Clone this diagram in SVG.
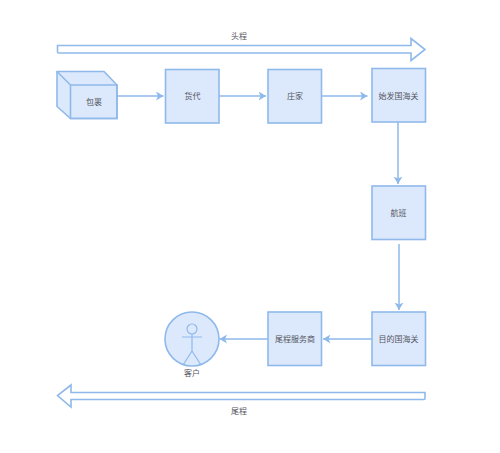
<svg xmlns="http://www.w3.org/2000/svg" width="500" height="453" viewBox="0 0 500 453">
<style>
.s{fill:#dce9fc;stroke:#8fb9ea;stroke-width:1.6}
.o{fill:#fff;stroke:#8fb9ea;stroke-width:1.6}
.n{fill:none;stroke:#8fb9ea;stroke-width:1.2}
.c{fill:none;stroke:#8fb9ea;stroke-width:1.5;marker-end:url(#a)}
text{font-family:"Noto Sans CJK SC","Liberation Sans",sans-serif;font-size:8px;fill:#55555f;text-anchor:middle}
</style>
<defs>
<marker id="a" markerUnits="userSpaceOnUse" markerWidth="9" markerHeight="10" refX="7.500" refY="4.500" orient="auto">
<path d="M0 0L7.500 4.500L0 9L2 4.500Z" fill="#8fb9ea"/>
</marker>
</defs>
<rect width="500" height="453" fill="#fff"/>
<g id="connectors">
<path class="c" d="M117 96H163.500"/>
<path class="c" d="M219 96H266"/>
<path class="c" d="M321.500 96H367.500"/>
<path class="c" d="M398 118V184"/>
<path class="c" d="M399 244V310"/>
<path class="c" d="M372 339H323"/>
<path class="c" d="M268 339H219.500"/>
</g>
<g id="head-arrow"><path class="o" d="M57.500 45.500H411V38.500L425 49.500L411 60.500V53H58.500Q57.500 53 57.500 52Z"/><text x="239" y="39">头程</text></g>
<g id="package"><path class="s" d="M57 71.500H104L117 85V118.500H70.500L57 106.500Z"/><path class="s" d="M57 71.500L70.500 85H117V118.500H70.500V85" style="fill:none"/><text x="94" y="105">包裹</text></g>
<g id="forwarder"><rect class="s" x="165.500" y="69.500" width="53.500" height="53.500"/><text x="192.500" y="99">货代</text></g>
<g id="warehouse"><rect class="s" x="268" y="69.500" width="53.500" height="53.500"/><text x="295" y="99">庄家</text></g>
<g id="origin-customs"><rect class="s" x="372" y="68.500" width="53.500" height="53.500"/><text x="398.500" y="99">始发国海关</text></g>
<g id="flight"><rect class="s" x="372" y="186" width="53.500" height="53.500"/><text x="398.500" y="216">航班</text></g>
<g id="destination-customs"><rect class="s" x="372" y="312" width="53.500" height="53.500"/><text x="398.500" y="342">目的国海关</text></g>
<g id="last-mile-provider"><rect class="s" x="268" y="312" width="53.500" height="53.500"/><text x="295" y="342">尾程服务商</text></g>
<g id="customer"><circle class="s" cx="192" cy="339" r="27"/><circle class="n" cx="192" cy="329" r="5"/><path class="n" d="M192 334V351M182 337H202M192 351L183 365M192 351L201 365"/><text x="192" y="376">客户</text></g>
<g id="tail-arrow"><path class="o" d="M425 392.500H71V385L57.500 395.500L71 407V399.500H424Q425 399.500 425 398.500Z"/><text x="239" y="414">尾程</text></g>
</svg>
